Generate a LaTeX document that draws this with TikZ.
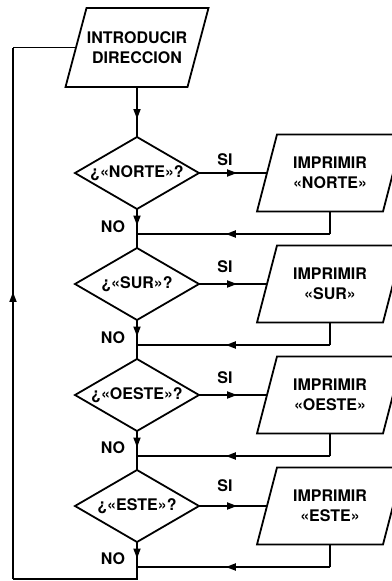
\documentclass[tikz,border=0pt]{standalone}
\usepackage{fontspec}
\setmainfont{TeX Gyre Heros}
\usetikzlibrary{shapes.geometric,arrows.meta,decorations.markings,calc}

\tikzset{
  txt/.style={font=\fontsize{16}{20}\selectfont\bfseries, align=center, inner sep=0pt, outer sep=0pt},
  flow/.style={line width=1.8pt, line join=miter},
  midarrow/.style={postaction={decorate},
    decoration={markings, mark=at position #1 with {\arrow{Triangle[length=10pt,width=7pt]}}}},
  % text box of an input/output block; its outline is slanted afterwards
  io/.style={txt, rectangle, minimum width=126pt, minimum height=77pt},
  test/.style={txt, draw, line width=1.8pt, diamond, aspect=1.7,
    minimum width=124pt, minimum height=72pt},
  lbl/.style={txt}
}

\begin{document}
\begin{tikzpicture}[x=1pt,y=-1pt]
  \useasboundingbox[fill=white] (0,0) rectangle (391,581);

  % input
  \node[io, minimum width=122pt, minimum height=79pt] (in) at (137,47.5) {INTRODUCIR\\DIRECCION};
  \draw[flow] ([xshift=-10.5pt]in.south west) -- ([xshift=-10.5pt]in.south east)
    -- ([xshift=10.5pt]in.north east) -- ([xshift=10.5pt]in.north west) -- cycle;

  % decisions
  \node[test] (d1) at (137,173) {¿«NORTE»?};
  \node[test] (d2) at (137,284) {¿«SUR»?};
  \node[test] (d3) at (137,395) {¿«OESTE»?};
  \node[test] (d4) at (137,506) {¿«ESTE»?};

  % outputs
  \node[io] (p1) at (330,173) {IMPRIMIR\\«NORTE»};
  \node[io] (p2) at (330,284) {IMPRIMIR\\«SUR»};
  \node[io] (p3) at (330,395) {IMPRIMIR\\«OESTE»};
  \node[io] (p4) at (330,506) {IMPRIMIR\\«ESTE»};
  \foreach \i in {1,2,3,4} {
    \draw[flow] ([xshift=-10pt]p\i.south west) -- ([xshift=-10pt]p\i.south east)
      -- ([xshift=10pt]p\i.north east) -- ([xshift=10pt]p\i.north west) -- cycle;
  }

  % junctions on the main line
  \coordinate (r1) at (137,234);
  \coordinate (r2) at (137,345);
  \coordinate (r3) at (137,456);
  \coordinate (r4) at (137,567);
  \coordinate (b)  at (137,579);
  \coordinate (bl) at (13,579);
  \coordinate (tl) at (13,47.5);

  % input to first decision
  \draw[flow, midarrow=0.64] (in.south) -- (d1.north);

  % each decision: SI branch, return, NO branch
  \foreach \i/\n in {1/2,2/3,3/4} {
    \draw[flow] (r\i) -- (d\n.north);
  }
  \foreach \i in {1,2,3,4} {
    \draw[flow, midarrow=0.56] (d\i.east) -- (p\i.west);
    \draw[flow] (p\i.south) -- (p\i.center |- r\i);
    \draw[flow, midarrow=0.54] (p\i.center |- r\i) -- (r\i);
    \draw[flow, midarrow=0.66] (d\i.south) -- (r\i);
  }

  % loop back to the input
  \draw[flow] (r4) -- (b) -- (bl);
  \draw[flow, midarrow=0.54] (bl) -- (tl);
  \draw[flow] (tl) -- (in.west);

  % branch labels
  \node[lbl] (si1) at (225,160) {SI};
  \node[lbl] (si2) at (225,267) {SI};
  \node[lbl] (si3) at (225,378) {SI};
  \node[lbl] (si4) at (225,486) {SI};
  \node[lbl] (no1) at (113,227) {NO};
  \node[lbl] (no2) at (113,338) {NO};
  \node[lbl] (no3) at (113,448) {NO};
  \node[lbl] (no4) at (113,559) {NO};
\end{tikzpicture}
\end{document}
